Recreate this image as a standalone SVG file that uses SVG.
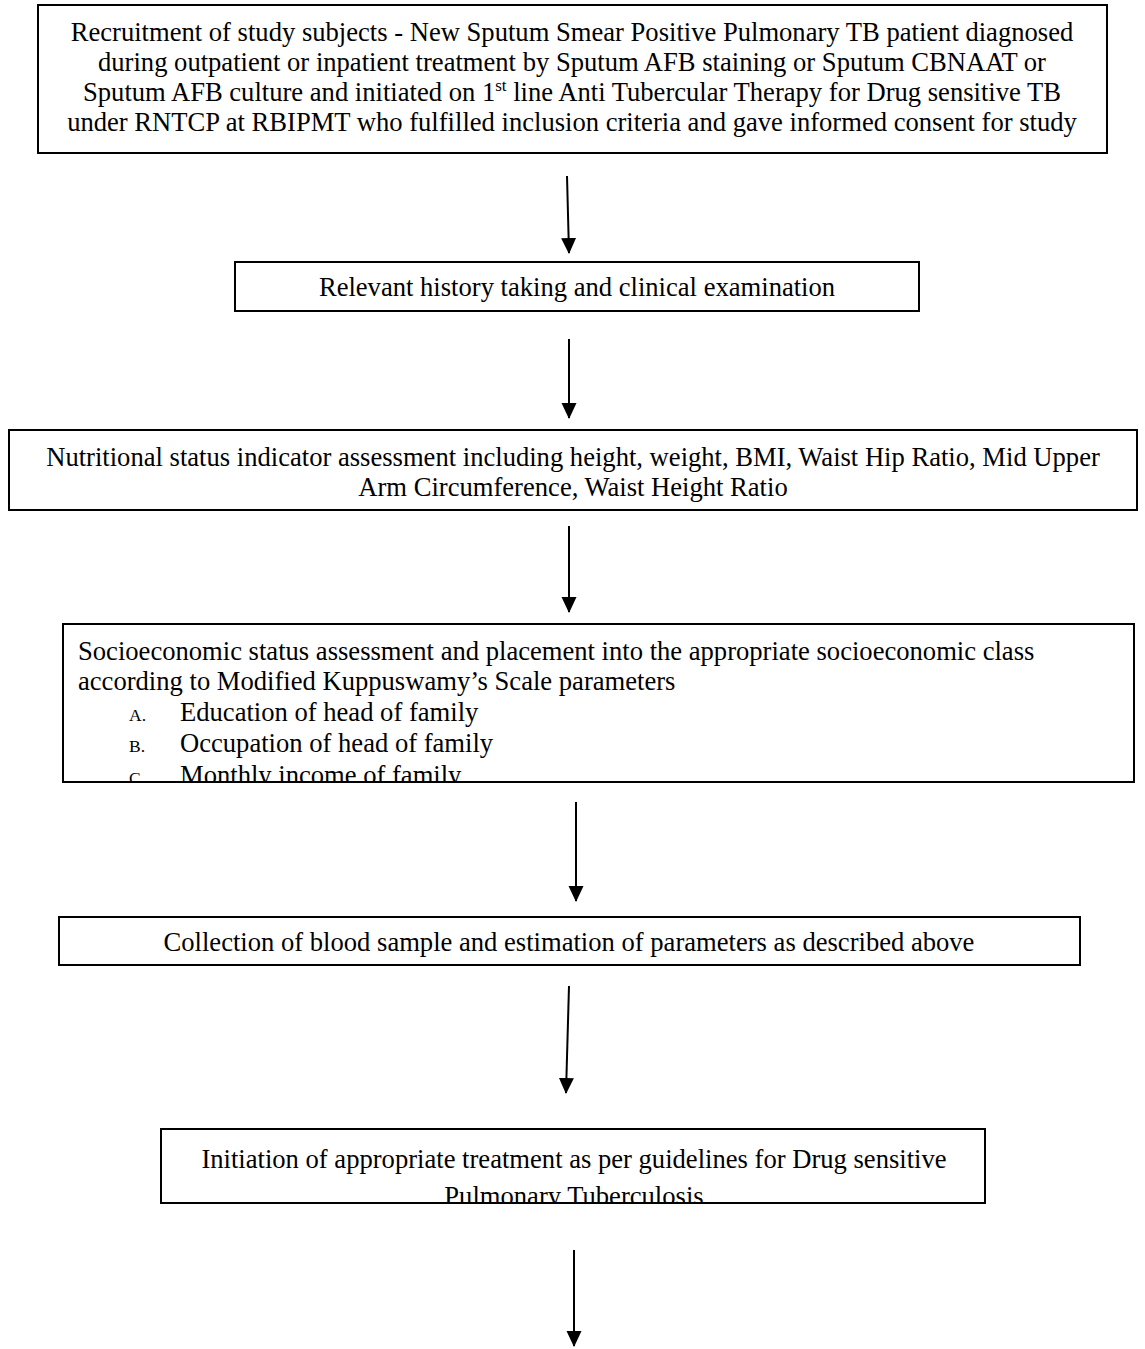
<svg xmlns="http://www.w3.org/2000/svg" width="1145" height="1349" viewBox="0 0 1145 1349">
<defs>
<style>
.box{fill:none;stroke:#000;stroke-width:2}
.t{font-family:"Liberation Serif","Times New Roman",serif;font-size:26.6px;fill:#000}
.c{text-anchor:middle}
.sm{font-size:17.5px}
.ln{stroke:#000;stroke-width:2;fill:none}
</style>
<marker id="arr" markerWidth="16" markerHeight="16" refX="15" refY="7.5" orient="auto" markerUnits="userSpaceOnUse" viewBox="0 0 16 15">
<path d="M0,0 L16,7.5 L0,15 Z" fill="#000"/>
</marker>
<clipPath id="c3"><rect x="9" y="430" width="1128" height="80"/></clipPath>
<clipPath id="c4"><rect x="63" y="624" width="1071" height="158"/></clipPath>
<clipPath id="c6"><rect x="161" y="1129" width="824" height="74"/></clipPath>
</defs>
<rect width="1145" height="1349" fill="#fff"/>
<g id="connectors">
<line class="ln" x1="567" y1="176" x2="569" y2="253" marker-end="url(#arr)"/>
<line class="ln" x1="569" y1="339" x2="569" y2="418" marker-end="url(#arr)"/>
<line class="ln" x1="569" y1="526" x2="569" y2="612" marker-end="url(#arr)"/>
<line class="ln" x1="576" y1="802" x2="576" y2="901" marker-end="url(#arr)"/>
<line class="ln" x1="569" y1="986" x2="566" y2="1093" marker-end="url(#arr)"/>
<line class="ln" x1="574" y1="1250" x2="574" y2="1346" marker-end="url(#arr)"/>
</g>
<g id="n1">
<rect class="box" x="38" y="5" width="1069" height="148"/>
<text class="t c" x="572" y="41">Recruitment of study subjects - New Sputum Smear Positive Pulmonary TB patient diagnosed</text>
<text class="t c" x="572" y="71">during outpatient or inpatient treatment by Sputum AFB staining or Sputum CBNAAT or</text>
<text class="t c" x="572" y="101">Sputum AFB culture and initiated on 1<tspan font-size="17" dy="-10">st</tspan><tspan dy="10"> line Anti Tubercular Therapy for Drug sensitive TB</tspan></text>
<text class="t c" x="572" y="131">under RNTCP at RBIPMT who fulfilled inclusion criteria and gave informed consent for study</text>
</g>
<g id="n2">
<rect class="box" x="235" y="262" width="684" height="49"/>
<text class="t c" x="577" y="296">Relevant history taking and clinical examination</text>
</g>
<g id="n3">
<g clip-path="url(#c3)">
<text class="t c" x="573" y="466">Nutritional status indicator assessment including height, weight, BMI, Waist Hip Ratio, Mid Upper</text>
<text class="t c" x="573" y="496">Arm Circumference, Waist Height Ratio</text>
</g>
<rect class="box" x="9" y="430" width="1128" height="80"/>
</g>
<g id="n4">
<g clip-path="url(#c4)">
<text class="t" x="78" y="660">Socioeconomic status assessment and placement into the appropriate socioeconomic class</text>
<text class="t" x="78" y="690">according to Modified Kuppuswamy’s Scale parameters</text>
<text class="t sm" x="129" y="721">A.</text>
<text class="t" x="180" y="721">Education of head of family</text>
<text class="t sm" x="129" y="752">B.</text>
<text class="t" x="180" y="752">Occupation of head of family</text>
<text class="t sm" x="129" y="784">C.</text>
<text class="t" x="180" y="784">Monthly income of family</text>
</g>
<rect class="box" x="63" y="624" width="1071" height="158"/>
</g>
<g id="n5">
<rect class="box" x="59" y="917" width="1021" height="48"/>
<text class="t c" x="569" y="951">Collection of blood sample and estimation of parameters as described above</text>
</g>
<g id="n6">
<g clip-path="url(#c6)">
<text class="t c" x="574" y="1168">Initiation of appropriate treatment as per guidelines for Drug sensitive</text>
<text class="t c" x="574" y="1205">Pulmonary Tuberculosis</text>
</g>
<rect class="box" x="161" y="1129" width="824" height="74"/>
</g>
</svg>
